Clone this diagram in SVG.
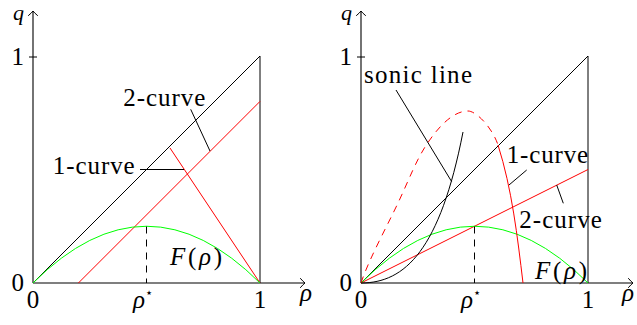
<svg xmlns="http://www.w3.org/2000/svg" width="637" height="325" viewBox="0 0 637 325">
<style>
.ln{fill:none;stroke:#000;stroke-width:1}
.ax{fill:none;stroke:#000;stroke-width:1.1;marker-end:url(#arr)}
.red{fill:none;stroke:#f00;stroke-width:1}
.grn{fill:none;stroke:#0f0;stroke-width:1}
.dash{stroke-dasharray:7,6}
.it{font-style:italic}
</style>
<defs>
<marker id="arr" markerUnits="userSpaceOnUse" markerWidth="12" markerHeight="12" refX="0" refY="0" viewBox="-6 -6 12 12" orient="auto" overflow="visible">
<path d="M-4.5,-4.5 Q-1.5,-1 0,0 Q-1.5,1 -4.5,4.5" fill="none" stroke="#000" stroke-width="1" stroke-linecap="round"/>
</marker>
</defs>
<g id="left-panel">
<g id="left-axes">
<path class="ax" d="M33,283 L305,283"/>
<path class="ax" d="M33,283 L33,11"/>
<path class="ln" d="M29,57 L37,57"/>
<g font-family="Liberation Serif, Times New Roman, serif" font-size="25">
<text x="24" y="291" text-anchor="end">0</text>
<text x="24" y="65" text-anchor="end">1</text>
<text x="24" y="20" text-anchor="end" class="it" font-size="22">q</text>
<text x="33" y="308" text-anchor="middle">0</text>
<text x="260" y="308" text-anchor="middle">1</text>
<text x="133" y="308"><tspan class="it">ρ</tspan><tspan font-family="DejaVu Sans, sans-serif" font-size="13" dy="-11">⋆</tspan></text>
<text x="300" y="301" class="it">ρ</text>
</g>
</g>
<g id="left-curves">
<path class="ln" d="M33,283 L260,56 L260,283"/>
<path class="red" d="M78.4,283 L260,101.4"/>
<path class="red" d="M170,148 L260,283"/>
<path class="grn" d="M33,283 Q146.5,169.5 260,283"/>
<path class="ln dash" d="M146.5,226.5 L146.5,283"/>
</g>
<g id="left-labels" font-family="Liberation Serif, Times New Roman, serif" font-size="25">
<text x="123.3" y="106" textLength="82" lengthAdjust="spacing">2-curve</text>
<text x="52.7" y="174" textLength="82" lengthAdjust="spacing">1-curve</text>
<text x="170" y="265" textLength="52" lengthAdjust="spacing"><tspan class="it">F</tspan>(<tspan class="it">ρ</tspan>)</text>
</g>
</g>
<g id="right-panel">
<g id="right-axes">
<path class="ax" d="M361,283 L633,283"/>
<path class="ax" d="M361,283 L361,11"/>
<path class="ln" d="M357,57 L365,57"/>
<g font-family="Liberation Serif, Times New Roman, serif" font-size="25">
<text x="352" y="291" text-anchor="end">0</text>
<text x="352" y="65" text-anchor="end">1</text>
<text x="352" y="20" text-anchor="end" class="it" font-size="22">q</text>
<text x="361" y="308" text-anchor="middle">0</text>
<text x="588" y="308" text-anchor="middle">1</text>
<text x="461" y="308"><tspan class="it">ρ</tspan><tspan font-family="DejaVu Sans, sans-serif" font-size="13" dy="-11">⋆</tspan></text>
<text x="622" y="301" class="it">ρ</text>
</g>
</g>
<g id="right-curves">
<path class="ln" d="M361,283 L588,56 L588,283"/>
<path class="red" d="M361,283 L588,169.5"/>
<path class="grn" d="M361,283 Q474.5,169.5 588,283"/>
<path class="ln dash" d="M474.5,226.5 L474.5,283"/>
<path class="red dash" d="M361,283 C369,259 387.3,225.7 398,203 C408.7,180.3 415.5,162 425,147 C439,125 454,111 468,111 C476,111 492,127 498,145"/>
<path class="red" d="M498,145 C512,189 517.4,236.5 523,283"/>
<path class="ln" d="M361,283 C405,283 440,250 463,132"/>
</g>
<g id="right-labels" font-family="Liberation Serif, Times New Roman, serif" font-size="25">
<text x="364" y="83" textLength="108" lengthAdjust="spacing">sonic line</text>
<text x="506.7" y="163" textLength="81.5" lengthAdjust="spacing">1-curve</text>
<text x="519.3" y="227.5" textLength="82.5" lengthAdjust="spacing">2-curve</text>
<text x="535" y="279" textLength="52" lengthAdjust="spacing"><tspan class="it">F</tspan>(<tspan class="it">ρ</tspan>)</text>
</g>
</g>
<g id="connectors">
<path class="ln" d="M190.7,109.3 L210,151"/>
<path class="ln" d="M140,169.5 L184,169.5"/>
<path class="ln" d="M396,90 L451.7,181.7"/>
<path class="ln" d="M526.7,170 L509,185"/>
<path class="ln" d="M556.7,185 L563.3,203.3"/>
</g>
</svg>
